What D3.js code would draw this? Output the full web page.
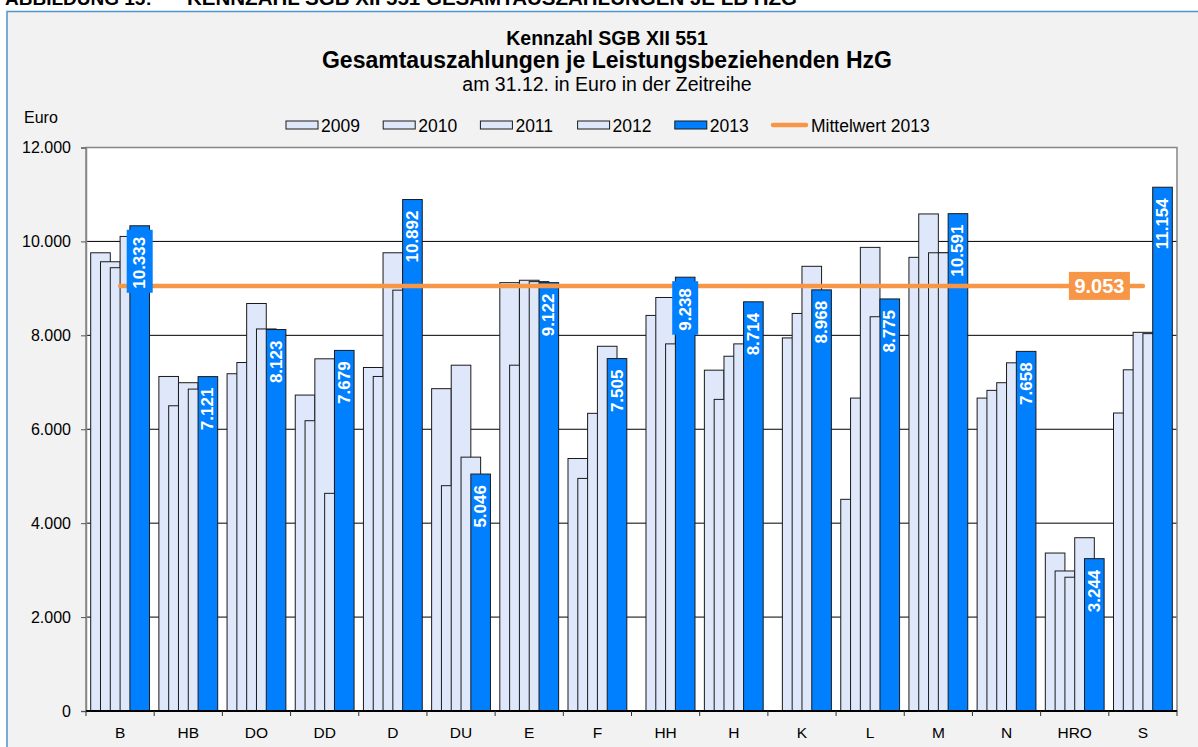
<!DOCTYPE html>
<html>
<head>
<meta charset="utf-8">
<script src="https://cdn.jsdelivr.net/npm/d3@7"></script>
<style>
  body { margin: 0; background: #fff; }
  svg { display: block; font-family: "Liberation Sans", Arial, sans-serif; }
</style>
</head>
<body>
<svg id="chart" width="1198" height="747"></svg>
<script>
// Kennzahl SGB XII 551
const cities = ["B", "HB", "DO", "DD", "D", "DU", "E", "F", "HH", "H", "K", "L", "M", "N", "HRO", "S"];
const years = ["2009", "2010", "2011", "2012", "2013"];
const values2009 = [9758, 7124, 7182, 6728, 7315, 6864, 9122, 5377, null, 7258, null, 4508, 9661, 6664, 3364, 6346];
const values2010 = [9567, 6500, 7421, 6182, 7124, 4798, 7364, 4953, 8424, 6636, 7945, 6664, 10585, 6828, 2982, 7266];
const values2011 = [9440, 6991, 8678, 7500, 9758, 7364, 9173, 6339, 8806, 7555, 8466, 9873, 9758, 6991, 2849, 8064];
const values2012 = [10106, 6855, 8136, 4635, 8962, 5406, 9144, 7767, 7818, 7818, 9470, 8396, 9758, 7415, 3690, 8036];
const values2013 = [10333, 7121, 8123, 7679, 10892, 5046, 9122, 7505, 9238, 8714, 8968, 8775, 10591, 7658, 3244, 11154];
const mean2013 = 9053;
const yTicks = [0, 2000, 4000, 6000, 8000, 10000, 12000];

const seriesValues = [values2009, values2010, values2011, values2012, values2013];

const lightFill = "#dfe8fa";
const blueFill = "#0080ff";
const orange = "#f79646";

const fmt = d3.formatLocale({ decimal: ",", thousands: ".", grouping: [3], currency: ["", "€"] }).format(",d");

const svg = d3.select("#chart");

// outer chart area
svg.append("rect")
  .attr("x", 7).attr("y", 11.5)
  .attr("width", 1230).attr("height", 760)
  .attr("fill", "#f2f2f2")
  .attr("stroke", "#4f94cd")
  .attr("stroke-width", 1.5);

// figure caption, cut off at the top edge like in the source
svg.append("text")
  .attr("x", 5).attr("y", 5)
  .attr("font-size", 19).attr("font-weight", "bold")
  .text("ABBILDUNG 15:");
svg.append("text")
  .attr("x", 187).attr("y", 5)
  .attr("font-size", 20).attr("font-weight", "bold")
  .attr("textLength", 610).attr("lengthAdjust", "spacingAndGlyphs")
  .text("KENNZAHL SGB XII 551 GESAMTAUSZAHLUNGEN JE LB HZG");

// titles
svg.append("text").attr("x", 607).attr("y", 45).attr("text-anchor", "middle")
  .attr("font-size", 19.5).attr("font-weight", "bold").text("Kennzahl SGB XII 551");
svg.append("text").attr("x", 607).attr("y", 68).attr("text-anchor", "middle")
  .attr("font-size", 23).attr("font-weight", "bold").text("Gesamtauszahlungen je Leistungsbeziehenden HzG");
svg.append("text").attr("x", 607).attr("y", 91).attr("text-anchor", "middle")
  .attr("font-size", 19.5).text("am 31.12. in Euro in der Zeitreihe");

svg.append("text").attr("x", 24).attr("y", 123)
  .attr("font-size", 16).text("Euro");

// scales
const plot = { left: 86, right: 1177, top: 147.5, bottom: 711 };
const x = d3.scaleBand().domain(cities).range([plot.left, plot.right]);
const y = d3.scaleLinear().domain([0, 12000]).range([plot.bottom, plot.top]);
const barW = x.bandwidth() * 0.2875;
const groupOffset = (x.bandwidth() - 3 * barW) / 2;

// plot area
svg.append("rect")
  .attr("x", plot.left).attr("y", plot.top)
  .attr("width", plot.right - plot.left).attr("height", plot.bottom - plot.top)
  .attr("fill", "#fff");

// gridlines
svg.append("g")
  .selectAll("line")
  .data(yTicks.filter(d => d > 0 && d < 12000))
  .enter().append("line")
  .attr("x1", plot.left).attr("x2", plot.right)
  .attr("y1", d => y(d)).attr("y2", d => y(d))
  .attr("stroke", "#000").attr("stroke-width", 1);

// plot border
svg.append("rect")
  .attr("x", plot.left).attr("y", plot.top)
  .attr("width", plot.right - plot.left).attr("height", plot.bottom - plot.top)
  .attr("fill", "none").attr("stroke", "#868686").attr("stroke-width", 1.5);

// bars, drawn series by series so later years overlap earlier ones
seriesValues.forEach((vals, si) => {
  svg.append("g")
    .selectAll("rect")
    .data(cities.map((c, i) => ({ city: c, value: vals[i] })).filter(d => d.value != null))
    .enter().append("rect")
    .attr("x", d => x(d.city) + groupOffset + si * barW / 2)
    .attr("y", d => y(d.value))
    .attr("width", barW)
    .attr("height", d => y(0) - y(d.value))
    .attr("fill", si === 4 ? blueFill : lightFill)
    .attr("stroke", "#1a1a1a")
    .attr("stroke-width", 1);
});

// y axis
const yAxis = svg.append("g")
  .attr("transform", `translate(${plot.left},0)`)
  .call(d3.axisLeft(y).tickValues(yTicks).tickSize(5).tickPadding(10).tickFormat(fmt));
yAxis.select(".domain").attr("stroke", "#868686").attr("stroke-width", 1.5);
yAxis.selectAll(".tick line").attr("stroke", "#555");
yAxis.selectAll("text").attr("font-size", 16).attr("fill", "#000")
  .attr("font-family", "Liberation Sans, Arial, sans-serif");

// x axis with ticks between categories
const xAxis = svg.append("g").attr("transform", `translate(0,${plot.bottom})`);
xAxis.append("line")
  .attr("x1", plot.left).attr("x2", plot.right)
  .attr("stroke", "#000").attr("stroke-width", 2);
xAxis.selectAll("line.tick")
  .data(cities.concat(["end"]))
  .enter().append("line")
  .attr("class", "tick")
  .attr("x1", (d, i) => plot.left + i * x.step())
  .attr("x2", (d, i) => plot.left + i * x.step())
  .attr("y1", 0).attr("y2", 5)
  .attr("stroke", "#333");
xAxis.selectAll("text")
  .data(cities)
  .enter().append("text")
  .attr("x", d => x(d) + x.bandwidth() / 2)
  .attr("y", 27)
  .attr("text-anchor", "middle")
  .attr("font-size", 15.5)
  .text(d => d);

// mean line for 2013
const meanLine = d3.line()
  .x(d => x(d) + x.bandwidth() / 2)
  .y(() => y(mean2013));
svg.append("path")
  .datum(cities)
  .attr("d", meanLine)
  .attr("fill", "none")
  .attr("stroke", orange)
  .attr("stroke-width", 4.5)
  .attr("stroke-linecap", "round");

// data labels inside 2013 bars; the label box only shows where it sits on the mean line
const labelG = svg.append("g");
cities.forEach((c, i) => {
  const v = values2013[i];
  const cx = x(c) + groupOffset + 4 * barW / 2 + barW / 2;
  const top = y(v);
  const g = labelG.append("g");
  const box = g.append("rect").attr("fill", blueFill);
  const t = g.append("text")
    .attr("transform", `translate(${cx},${top + 11}) rotate(-90)`)
    .attr("text-anchor", "end")
    .attr("dominant-baseline", "central")
    .attr("font-size", 17)
    .attr("font-weight", "bold")
    .attr("fill", "#fff")
    .text(fmt(v));
  const len = t.node().getComputedTextLength();
  const boxTop = top + 4, boxBottom = top + 15 + len;
  const yMean = y(mean2013);
  if (boxTop < yMean && boxBottom > yMean) {
    box.attr("x", cx - 13).attr("width", 26)
      .attr("y", boxTop).attr("height", boxBottom - boxTop);
  } else {
    box.remove();
  }
});

// mean value label
const lastCx = x(cities[cities.length - 1]) + x.bandwidth() / 2;
svg.append("rect")
  .attr("x", lastCx - 74).attr("y", y(mean2013) - 14)
  .attr("width", 61).attr("height", 28)
  .attr("fill", orange);
svg.append("text")
  .attr("x", lastCx - 43.5).attr("y", y(mean2013) + 7)
  .attr("text-anchor", "middle")
  .attr("font-size", 20).attr("font-weight", "bold")
  .attr("fill", "#fff")
  .text(fmt(mean2013));

// legend
const legendItems = years.map((yr, i) => ({ label: yr, type: "bar", fill: i === 4 ? blueFill : lightFill }))
  .concat([{ label: "Mittelwert 2013", type: "line" }]);
const legend = svg.append("g").attr("transform", "translate(286,125)");
legendItems.forEach((d, i) => {
  const g = legend.append("g").attr("transform", `translate(${i * 97.2},0)`);
  if (d.type === "bar") {
    g.append("rect").attr("x", 0).attr("y", -4).attr("width", 32).attr("height", 8)
      .attr("fill", d.fill).attr("stroke", "#1a1a1a").attr("stroke-width", 1);
  } else {
    g.append("line").attr("x1", 1).attr("x2", 34).attr("y1", 0).attr("y2", 0)
      .attr("stroke", orange).attr("stroke-width", 4.5).attr("stroke-linecap", "round");
  }
  g.append("text").attr("x", d.type === "bar" ? 35 : 39).attr("y", 6.5)
    .attr("font-size", 17.5).text(d.label);
});
</script>
</body>
</html>
